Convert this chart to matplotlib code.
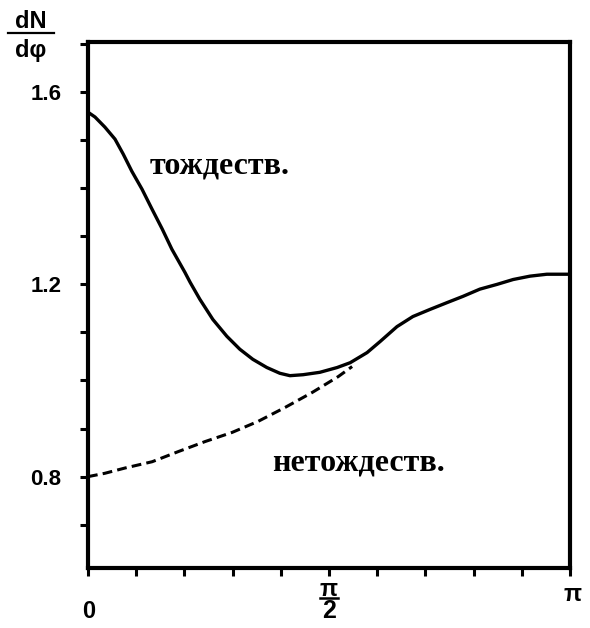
import numpy as np
import matplotlib
matplotlib.use("Agg")
import matplotlib.pyplot as plt
import matplotlib.transforms as mtransforms
from matplotlib.lines import Line2D

# --- data (phi in units of pi, dN/dphi) ---
ident_x = [0.0, 0.0145, 0.035, 0.056, 0.073, 0.091, 0.112, 0.133, 0.154, 0.174,
           0.201, 0.212, 0.232, 0.259, 0.288, 0.315, 0.342, 0.371, 0.398, 0.419,
           0.446, 0.481, 0.517, 0.544, 0.579, 0.606, 0.641, 0.674, 0.710, 0.745,
           0.778, 0.813, 0.849, 0.882, 0.917, 0.952, 1.0]
ident_y = [1.558, 1.548, 1.527, 1.502, 1.471, 1.435, 1.398, 1.356, 1.315, 1.273,
           1.225, 1.204, 1.169, 1.127, 1.092, 1.065, 1.044, 1.027, 1.015, 1.010,
           1.012, 1.017, 1.027, 1.037, 1.058, 1.081, 1.112, 1.133, 1.148, 1.162,
           1.175, 1.190, 1.200, 1.210, 1.217, 1.221, 1.221]
nonident_x = [0.0, 0.035, 0.077, 0.133, 0.187, 0.243, 0.299, 0.353, 0.409, 0.465, 0.519, 0.548]
nonident_y = [0.800, 0.807, 0.818, 0.831, 0.852, 0.873, 0.892, 0.915, 0.944, 0.975, 1.008, 1.029]

xtick_vals = [0.0, 0.5, 1.0]
xtick_labels = ["0", "", "π"]
ytick_vals = [0.8, 1.2, 1.6]
ytick_labels = ["0.8", "1.2", "1.6"]
label_ident = "тождеств."
label_nonident = "нетождеств."

plt.rcParams['font.family'] = ['Liberation Sans', 'DejaVu Sans']

fig = plt.figure(figsize=(5.9, 6.28), dpi=100)
ax = fig.add_axes([88/590, 1-568/628, (570-88)/590, (568-42)/628])

pi = np.pi
ax.plot(np.array(ident_x)*pi, ident_y, color='black', lw=2.4, solid_capstyle='round',
        solid_joinstyle='round')
ax.plot(np.array(nonident_x)*pi, nonident_y, color='black', lw=2.2, dashes=(3.2, 1.7))

ax.set_xlim(0, pi)
ax.set_ylim(0.61, 1.704)

ax.set_xticks(np.array(xtick_vals)*pi)
ax.set_xticklabels(xtick_labels)
ax.set_xticks(np.arange(0, 11)*pi/10, minor=True)
ax.set_yticks(ytick_vals)
ax.set_yticklabels(ytick_labels)
ax.set_yticks(np.round(np.arange(0.7, 1.71, 0.1), 2), minor=True)

for s in ax.spines.values():
    s.set_linewidth(3.0)

ax.tick_params(which='both', direction='out', width=2.2, color='black')
ax.tick_params(which='major', length=6)
ax.tick_params(which='minor', length=6)
ax.tick_params(axis='y', which='major', pad=13, labelsize=16)
ax.tick_params(axis='x', which='major', pad=6, labelsize=17)
for lab in ax.get_yticklabels():
    lab.set_fontweight('bold')
for lab in ax.get_xticklabels():
    lab.set_fontweight('bold')

xl = ax.get_xticklabels()
xl[0].set_transform(xl[0].get_transform() +
                    mtransforms.ScaledTranslation(1/100, -15/100, fig.dpi_scale_trans))
xl[2].set_transform(xl[2].get_transform() +
                    mtransforms.ScaledTranslation(3/100, 2/100, fig.dpi_scale_trans))

# pi/2 label drawn as a stacked fraction under its tick
trans = mtransforms.blended_transform_factory(ax.transData, ax.transAxes)
axh = 526.0
ax.text(pi/2, -(589-568)/axh, "π", transform=trans, ha='center', va='center',
        fontsize=17, fontweight='bold', clip_on=False)
ax.add_artist(Line2D([pi/2 - 0.018*pi, pi/2 + 0.018*pi], [-(598-568)/axh]*2,
                     transform=trans, color='black', lw=1.8, clip_on=False))
ax.text(pi/2, -(611-568)/axh, "2", transform=trans, ha='center', va='center',
        fontsize=18, fontweight='bold', clip_on=False)

ax.text(0.274*pi, 1.446, label_ident, ha='center', va='center', fontsize=23,
        family=['Liberation Serif', 'DejaVu Serif'], fontweight='bold')
ax.text(0.562*pi, 0.829, label_nonident, ha='center', va='center', fontsize=23,
        family=['Liberation Serif', 'DejaVu Serif'], fontweight='bold')

# y-axis fraction label dN/dphi
fig.text(31/590, 1-21/628, "dN", ha='center', va='center', fontsize=17, fontweight='bold')
fig.add_artist(Line2D([8/590, 54/590], [1-33/628, 1-33/628], transform=fig.transFigure,
                      color='black', lw=1.6))
fig.text(31/590, 1-50/628, "dφ", ha='center', va='center', fontsize=17, fontweight='bold')

fig.savefig("out.png", dpi=100)
